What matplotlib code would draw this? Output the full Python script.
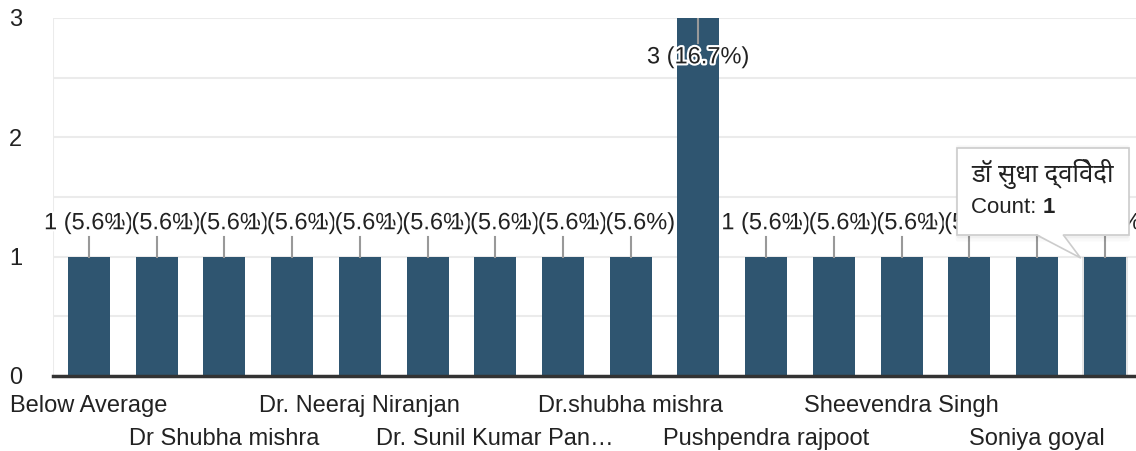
import matplotlib
matplotlib.use("Agg")
import matplotlib.pyplot as plt
import matplotlib.patheffects as pe
from matplotlib.patches import FancyBboxPatch, Polygon
import numpy as np

plt.rcParams["font.family"] = ["Liberation Sans", "DejaVu Sans"]

# data (hidden names are placeholders, only every 2nd label is shown on the axis)
names = ["Below Average", "Dr Neeraj niranjan", "Dr Shubha mishra", "Dr Sudha Dwivedi",
         "Dr. Neeraj Niranjan", "Dr. Shubha Mishra", "Dr. Sunil Kumar Pan…", "Dr.Neeraj Niranjan",
         "Dr.shubha mishra", "Neeraj Niranjan", "Pushpendra rajpoot", "Shailendra Singh",
         "Sheevendra Singh", "Shubha Mishra", "Soniya goyal", "डॉ सुधा द्विवेदी"]
counts = [1, 1, 1, 1, 1, 1, 1, 1, 1, 3, 1, 1, 1, 1, 1, 1]
hover_idx = 15

total = sum(counts)
bar_color = "#2f5570"
txt_color = "#222222"
fs = 17

fig = plt.figure(figsize=(11.36, 4.51), dpi=100)
ax = fig.add_axes([53 / 1136, 75 / 451, 1083 / 1136, 358 / 451])

x = np.arange(len(counts))
ax.set_xlim(-0.53, 15.46)
ax.set_ylim(0, 3)

# grid
for yv in [0.5, 1, 1.5, 2, 2.5, 3]:
    ax.axhline(yv, color="#ebebeb", lw=1.5, zorder=0)
ax.axvline(-0.53, color="#ebebeb", lw=1.5, zorder=0)

# shadow behind hovered bar
ax.bar(x[hover_idx], counts[hover_idx], width=0.67, color="#000000", alpha=0.10, zorder=1)
ax.bar(x, counts, width=0.62, color=bar_color, zorder=2)

for s in ["top", "right", "left"]:
    ax.spines[s].set_visible(False)
ax.spines["bottom"].set_color("#333333")
ax.spines["bottom"].set_linewidth(2.5)
ax.spines["bottom"].set_zorder(5)

ax.set_yticks([0, 1, 2, 3])
ax.set_yticklabels(["0", "1", "2", "3"], fontsize=fs, color=txt_color)
ax.tick_params(axis="y", length=0, pad=22)
ax.set_xticks([])

# x labels, every other one, in two rows
xt = ax.get_xaxis_transform()
for i in range(0, len(names), 2):
    row = (i // 2) % 2
    ax.text(x[i], -0.053 - row * 0.091, names[i], transform=xt, ha="center", va="top",
            fontsize=fs, color=txt_color)

# bar annotations
halo = [pe.withStroke(linewidth=3, foreground="white")]
vmax = max(counts)
for i, v in enumerate(counts):
    lab = f"{v} ({v / total * 100:.1f}%)"
    if v == vmax:
        ax.plot([x[i], x[i]], [v, v - 0.21], color="#999999", lw=1.5, zorder=3)
        ax.text(x[i], v - 0.33, lab, ha="center", va="center", fontsize=fs,
                color=txt_color, path_effects=halo, zorder=4)
    else:
        ax.plot([x[i], x[i]], [v, v + 0.165], color="#999999", lw=1.5, zorder=3)
        ax.text(x[i], v + 0.28, lab, ha="center", va="center", fontsize=fs,
                color=txt_color, path_effects=halo, zorder=4)

# tooltip for hovered bar
bx0, bx1, by0, by1 = 12.82, 15.35, 1.18, 1.91
for k, a in enumerate([0.035, 0.025]):
    d = 0.012 * (k + 1)
    ax.add_patch(FancyBboxPatch((bx0 - d, by0 - d * 2.2), bx1 - bx0 + 2 * d, by1 - by0 + 2 * d * 1.6,
                                boxstyle="round,pad=0,rounding_size=0.03", fc="black", ec="none",
                                alpha=a, zorder=6))
ax.add_patch(FancyBboxPatch((bx0, by0), bx1 - bx0, by1 - by0, boxstyle="square,pad=0",
                            fc="white", ec="#cccccc", lw=1.2, zorder=7))
tip = [(14.0, by0 + 0.01), (14.39, by0 + 0.01), (14.64, 0.99)]
ax.add_patch(Polygon(tip, closed=True, fc="white", ec="none", zorder=8))
ax.plot([14.0, 14.64, 14.39], [by0, 0.99, by0], color="#cccccc", lw=1.2, zorder=8)

ax.text(13.03, 1.69, names[hover_idx], ha="left", va="center", fontsize=18.5, fontweight="bold",
        color="#222222", zorder=9,
        family=["Noto Sans Devanagari", "Lohit Devanagari", "FreeSans", "Liberation Sans", "DejaVu Sans"])
t1 = ax.text(13.03, 1.41, "Count: ", ha="left", va="center", fontsize=16, color="#222222", zorder=9)
ax.annotate(str(counts[hover_idx]), xy=(1, 0.5), xycoords=t1, ha="left", va="center",
            fontsize=16, fontweight="bold", color="#222222", zorder=9)

fig.savefig("out.png", dpi=100)
